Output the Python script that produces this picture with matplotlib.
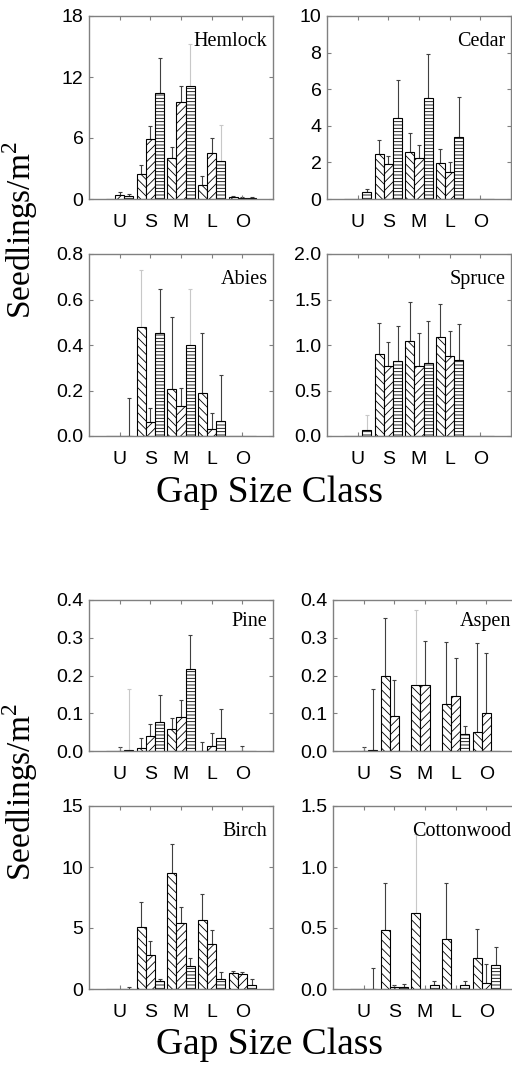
import numpy as np
import matplotlib
matplotlib.use("Agg")
import matplotlib.pyplot as plt

plt.rcParams['font.family'] = ['Liberation Sans', 'DejaVu Sans']
plt.rcParams['hatch.linewidth'] = 0.6
plt.rcParams['mathtext.fontset'] = 'custom'
plt.rcParams['mathtext.rm'] = 'Liberation Serif'

nan = np.nan
classes = ["U", "S", "M", "L", "O"]

# rows = gap class U S M L O, columns = three bar series (\\, //, --)
hemlock_mean = [[nan, 0.4, 0.3], [2.5, 5.9, 10.4], [4.0, 9.5, 11.1], [1.35, 4.55, 3.7], [0.15, 0.1, 0.1]]
hemlock_top = [[nan, 0.65, 0.5], [3.35, 7.2, 13.85], [5.15, 11.1, 15.25], [2.3, 6.0, 7.3], [0.25, 0.2, 0.2]]

cedar_mean = [[nan, nan, 0.4], [2.45, 1.9, 4.4], [2.55, 2.25, 5.5], [1.95, 1.5, 3.4], [nan, nan, nan]]
cedar_top = [[nan, nan, 0.55], [3.2, 2.35, 6.5], [3.6, 2.97, 7.95], [2.75, 2.0, 5.6], [nan, nan, nan]]

abies_mean = [[nan, nan, 0.0], [0.477, 0.063, 0.454], [0.207, 0.13, 0.402], [0.187, 0.032, 0.068], [nan, nan, nan]]
abies_top = [[nan, nan, 0.165], [0.73, 0.125, 0.648], [0.522, 0.21, 0.644], [0.454, 0.1, 0.27], [nan, nan, nan]]

spruce_mean = [[nan, nan, 0.066], [0.905, 0.772, 0.828], [1.04, 0.765, 0.8], [1.09, 0.877, 0.83], [nan, nan, nan]]
spruce_top = [[nan, nan, 0.236], [1.238, 1.03, 1.209], [1.475, 1.13, 1.263], [1.456, 1.15, 1.228], [nan, nan, nan]]

pine_mean = [[nan, 0.0, 0.002], [0.008, 0.04, 0.077], [0.057, 0.09, 0.216], [0.0, 0.013, 0.035], [nan, 0.0, nan]]
pine_top = [[nan, 0.01, 0.165], [0.035, 0.072, 0.149], [0.088, 0.134, 0.306], [0.025, 0.048, 0.111], [nan, 0.012, nan]]

aspen_mean = [[nan, 0.0, 0.002], [0.2, 0.092, nan], [0.175, 0.175, nan], [0.125, 0.145, 0.045], [0.05, 0.1, nan]]
aspen_top = [[nan, 0.01, 0.165], [0.352, 0.187, nan], [0.373, 0.292, nan], [0.289, 0.246, 0.065], [0.287, 0.26, nan]]

birch_mean = [[nan, nan, 0.0], [5.12, 2.82, 0.66], [9.47, 5.37, 1.92], [5.64, 3.67, 0.85], [1.31, 1.2, 0.36]]
birch_top = [[nan, nan, 0.15], [7.12, 3.97, 0.85], [11.88, 6.76, 2.52], [7.77, 4.87, 1.4], [1.5, 1.37, 0.85]]

cottonwood_mean = [[nan, nan, 0.003], [0.48, 0.015, 0.015], [0.624, nan, 0.036], [0.413, nan, 0.035], [0.254, 0.05, 0.2]]
cottonwood_top = [[nan, nan, 0.17], [0.87, 0.035, 0.044], [1.27, nan, 0.068], [0.87, nan, 0.068], [0.495, 0.208, 0.345]]

species = ["Hemlock", "Cedar", "Abies", "Spruce", "Pine", "Aspen", "Birch", "Cottonwood"]
means = [hemlock_mean, cedar_mean, abies_mean, spruce_mean, pine_mean, aspen_mean, birch_mean, cottonwood_mean]
tops = [hemlock_top, cedar_top, abies_top, spruce_top, pine_top, aspen_top, birch_top, cottonwood_top]
yticks = [
    [0, 6, 12, 18], [0, 2, 4, 6, 8, 10], [0.0, 0.2, 0.4, 0.6, 0.8], [0.0, 0.5, 1.0, 1.5, 2.0],
    [0.0, 0.1, 0.2, 0.3, 0.4], [0.0, 0.1, 0.2, 0.3, 0.4], [0, 5, 10, 15], [0.0, 0.5, 1.0, 1.5],
]
yfmt = ["%d", "%d", "%.1f", "%.1f", "%.1f", "%.1f", "%d", "%.1f"]

# error bars drawn in light grey (class index, series index)
faint = {
    "Hemlock": [(2, 2), (3, 2)], "Abies": [(1, 0), (2, 2)], "Spruce": [(0, 2)],
    "Pine": [(0, 2)], "Aspen": [(2, 0)], "Cottonwood": [(2, 0)],
}

hatches = ['\\\\\\\\', '////', '-----']
W, H = 512, 1066
boxes = [  # left, top, right, bottom in pixels
    (89, 16, 273, 199), (327, 16, 511, 199),
    (89, 254, 273, 436), (327, 254, 511, 436),
    (89, 600, 273, 751), (333, 600, 517, 751),
    (89, 806, 273, 989), (333, 806, 517, 989),
]

fig = plt.figure(figsize=(W / 100, H / 100), dpi=100)
x = np.arange(len(classes))
bw = 0.3

for k, name in enumerate(species):
    l, t, r, b = boxes[k]
    ax = fig.add_axes([l / W, 1 - b / H, (r - l) / W, (b - t) / H])
    m = np.array(means[k], dtype=float)
    tp = np.array(tops[k], dtype=float)
    for j in range(3):
        xs = x + (j - 1) * bw
        ax.bar(xs, np.nan_to_num(m[:, j]), width=bw, facecolor='white', edgecolor='black',
               linewidth=0.8, hatch=hatches[j], zorder=2)
        for i in range(len(classes)):
            if np.isnan(tp[i, j]):
                continue
            col = '#c8c8c8' if (i, j) in faint.get(name, []) else '#404040'
            base = 0 if np.isnan(m[i, j]) else m[i, j]
            ax.errorbar(xs[i], base, yerr=[[0], [tp[i, j] - base]], fmt='none',
                        ecolor=col, elinewidth=0.8, capsize=1.3, capthick=0.8, zorder=1)
    ax.set_xlim(-1, 5)
    ax.set_ylim(yticks[k][0], yticks[k][-1])
    ax.set_xticks(x)
    ax.set_xticklabels(classes)
    ax.set_yticks(yticks[k])
    ax.set_yticklabels([yfmt[k] % v for v in yticks[k]])
    ax.tick_params(direction='in', top=True, right=True, length=3, width=0.8,
                   color='#808080', labelsize=14, pad=4)
    ax.tick_params(axis='x', pad=11)
    for s in ax.spines.values():
        s.set_color('#808080')
        s.set_linewidth(1.0)
    ax.text(0.97, 0.86, name, transform=ax.transAxes, ha='right', va='center',
            fontsize=14.5, family='Liberation Serif')

for yc in (230, 792):
    fig.text(20 / W, 1 - yc / H, 'Seedlings/m$^2$', rotation=90, ha='center', va='center',
             fontsize=24, family='Liberation Serif')
for yc in (493, 1045):
    fig.text(270 / W, 1 - yc / H, 'Gap Size Class', ha='center', va='center',
             fontsize=27, family='Liberation Serif')

fig.savefig("out.png", dpi=100)
